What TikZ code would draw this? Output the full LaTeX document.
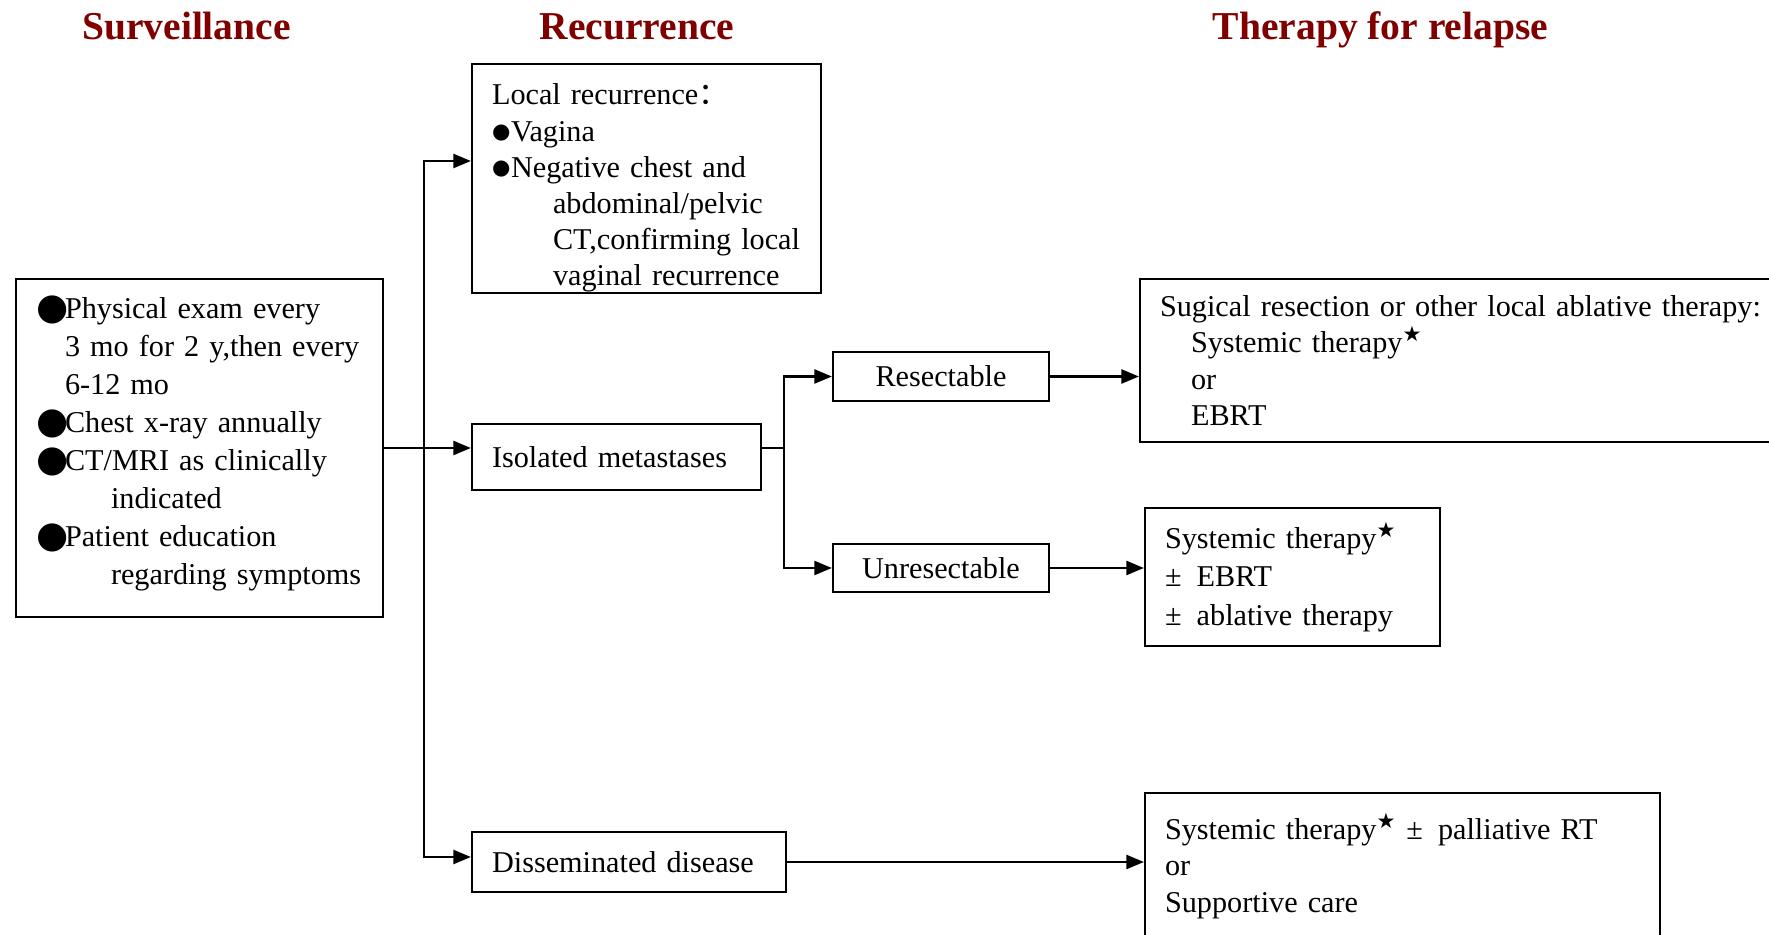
\documentclass[tikz,border=0pt]{standalone}
\usepackage{fontspec}
\setmainfont{Liberation Serif}
\newfontfamily\symfont{DejaVu Sans}
\newfontfamily\cjk{Noto Sans CJK SC}
\usetikzlibrary{arrows.meta}
\usetikzlibrary{positioning}
\definecolor{titlered}{RGB}{128,0,0}
\hyphenpenalty=10000
\exhyphenpenalty=10000

\newcommand{\bigdot}{\makebox[0.58cm][l]{\raisebox{-0.02cm}{\symfont\fontsize{21}{21}\selectfont ●}}}
\newcommand{\smalldot}{\makebox[0.38cm][l]{\raisebox{0.05cm}{\symfont\fontsize{12}{12}\selectfont ●}}}
\newcommand{\rstar}{\textsuperscript{\symfont\fontsize{12}{12}\selectfont ★}}

\begin{document}
\begin{tikzpicture}[x=0.02cm, y=-0.02cm,
    box/.style={draw, line width=1.3pt, inner xsep=0.4cm, inner ysep=0pt, align=left,
      font=\fontsize{17.2}{20.6}\selectfont},
    smallbox/.style={draw, line width=1.3pt, inner sep=0pt, align=center,
      font=\fontsize{17.2}{20.6}\selectfont},
    heading/.style={anchor=base, text=titlered, font=\fontsize{22.5}{27}\selectfont\bfseries},
    link/.style={line width=1.3pt},
    arr/.style={line width=1.3pt, -{Triangle[length=10pt,width=8pt]}}]

    \path[use as bounding box, fill=white] (0,0) rectangle (1769,935);

    \node[heading] (tsurv) at (186.5,39.5) {Surveillance};
    \node[heading] (trec) at (637,39.5) {Recurrence};
    \node[heading] (tther) at (1380.5,39.5) {Therapy for relapse};

    \node[box, minimum width=7.34cm, minimum height=6.76cm, text width=6.54cm,
      font=\fontsize{17.2}{21.6}\selectfont] (surv) at (199.5,448) {%
      \bigdot Physical exam every\\
      \hspace*{0.58cm}3 mo for 2 y,then every\\
      \hspace*{0.58cm}6-12 mo\\
      \bigdot Chest x-ray annually\\
      \bigdot CT/MRI as clinically\\
      \hspace*{1.5cm}indicated\\
      \bigdot Patient education\\
      \hspace*{1.5cm}regarding symptoms\rule[-0.3cm]{0pt}{0pt}};

    \node[box, minimum width=6.98cm, minimum height=4.58cm, text width=6.18cm] (local) at (646.5,178.5) {%
      \rule{0pt}{23pt}Local recurrence\smash{\cjk ：}\\
      \smalldot Vagina\\
      \smalldot Negative chest and\\
      \hspace*{1.22cm}abdominal/pelvic\\
      \hspace*{1.22cm}CT,confirming local\\
      \hspace*{1.22cm}vaginal recurrence};

    \node[box, minimum width=5.78cm, minimum height=1.32cm, text width=4.98cm] (iso) at (616.5,457) {Isolated metastases};
    \node[box, minimum width=6.28cm, minimum height=1.2cm, text width=5.48cm] (diss) at (629,862) {Disseminated disease};

    \node[smallbox, minimum width=4.32cm, minimum height=0.97cm] (res) at (941,376.5) {Resectable};
    \node[smallbox, minimum width=4.32cm, minimum height=0.97cm] (unres) at (941,568) {Unresectable};

    \node[box, minimum width=13.2cm, minimum height=3.26cm, text width=12.4cm] (resth) at (1470,360.5) {%
      Sugical resection or other local ablative therapy:\\
      \hspace*{0.62cm}Systemic therapy\rstar\\
      \hspace*{0.62cm}or\\
      \hspace*{0.62cm}EBRT};

    \node[box, minimum width=5.9cm, minimum height=2.76cm, text width=5.1cm,
      font=\fontsize{17.2}{21.8}\selectfont] (unresth) at (1292.5,577) {%
      Systemic therapy\rstar\\
      ±\enspace EBRT\\
      ±\enspace ablative therapy};

    \node[box, minimum width=10.3cm, minimum height=2.92cm, text width=9.5cm] (dissth) at (1402.5,866) {%
      Systemic therapy\rstar\ ±\enspace palliative RT\\
      or\\
      Supportive care};

    \coordinate (split) at (424,448);
    \coordinate (branch) at (784,448);

    \draw[link] (surv.east) -- (split);
    \draw[arr] (split) |- ([yshift=0.35cm]local.west);
    \draw[arr] (split) -- (split -| iso.west);
    \draw[arr] (split) |- ([yshift=0.1cm]diss.west);

    \draw[link] (iso.east |- branch) -- (branch);
    \draw[arr] (branch) |- (res.west);
    \draw[arr] (branch) |- (unres.west);

    \draw[arr] (res.east) -- (res.east -| resth.west);
    \draw[arr] (unres.east) -- (unres.east -| unresth.west);
    \draw[arr] (diss.east) -- (diss.east -| dissth.west);

\end{tikzpicture}
\end{document}
